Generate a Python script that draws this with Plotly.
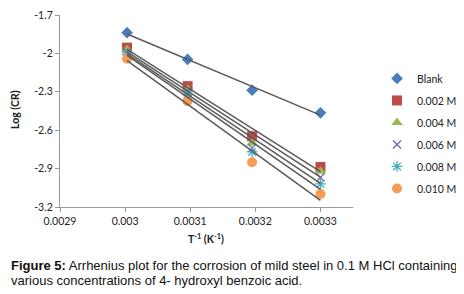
import numpy as np
import plotly.graph_objects as go

# Data
inv_T = [0.003003, 0.003096, 0.003195, 0.003300]
series_names = ["Blank", "0.002 M", "0.004 M", "0.006 M", "0.008 M", "0.010 M"]
blank = [-1.838, -2.047, -2.287, -2.464]
c002 = [-1.955, -2.256, -2.647, -2.887]
c004 = [-1.969, -2.280, -2.700, -2.920]
c006 = [-1.990, -2.300, -2.740, -2.970]
c008 = [-2.005, -2.320, -2.770, -3.020]
c010 = [-2.042, -2.373, -2.851, -3.098]

x_tickvals = [0.0029, 0.0030, 0.0031, 0.0032, 0.0033]
x_ticktext = ["0.0029", "0.003", "0.0031", "0.0032", "0.0033"]
y_tickvals = [-3.2, -2.9, -2.6, -2.3, -2.0, -1.7]
y_ticktext = ["-3.2", "-2.9", "-2.6", "-2.3", "-2", "-1.7"]

x_title = "<b>T<sup>-1</sup> (K<sup>-1</sup>)</b>"
y_title = "<b>Log (CR)</b>"
caption_line1 = "<b>Figure 5:</b> Arrhenius plot for the corrosion of mild steel in 0.1 M HCl containing"
caption_line2 = "various concentrations of 4- hydroxyl benzoic acid."

all_series = [blank, c002, c004, c006, c008, c010]
colors = ["#4A7EBB", "#BE4B48", "#98B954", "#7D60A0", "#46AAC5", "#F59D56"]
symbols = ["diamond", "square", "triangle-up", "x-thin-open", "asterisk-open", "circle"]
sizes = [9, 10, 10, 8, 9, 10]

fig = go.Figure()
for i, (name, ys) in enumerate(zip(series_names, all_series)):
    line_w = 1.3 if symbols[i] in ("x-thin-open", "asterisk-open") else 0
    fig.add_trace(go.Scatter(
        x=inv_T, y=ys, mode="markers", name=name,
        legendgroup=name,
        marker=dict(symbol=symbols[i], color=colors[i], size=sizes[i],
                    line=dict(width=line_w, color=colors[i])),
    ))

# Linear trendlines (least-squares fit of each series)
for name, ys in zip(series_names, all_series):
    m, b = np.polyfit(inv_T, ys, 1)
    xs = [inv_T[0], inv_T[-1]]
    fig.add_trace(go.Scatter(
        x=xs, y=[m * xv + b for xv in xs], mode="lines", showlegend=False,
        line=dict(color="#5A5A5A", width=1.5), hoverinfo="skip",
    ))

axis_font = dict(family="Lato, Open Sans, sans-serif", size=10.5, color="#222222")

# The page adds an 8 px offset at top and left; the figure fills the rest.
fig.update_layout(
    width=456, height=286,
    margin=dict(l=52, r=111, t=7, b=87, autoexpand=False),
    paper_bgcolor="white", plot_bgcolor="white",
    showlegend=True,
    legend=dict(
        x=1.082, y=0.745, xanchor="left", yanchor="top",
        font=dict(family="Lato, Open Sans, sans-serif", size=10.5, color="#222222"),
        tracegroupgap=3, traceorder="grouped",
        itemwidth=30, bgcolor="rgba(0,0,0,0)",
    ),
    xaxis=dict(
        range=[0.0029, 0.00335], tickvals=x_tickvals, ticktext=x_ticktext,
        showgrid=False, zeroline=False, showline=True, linecolor="#9A9A9A", linewidth=1.3,
        ticks="outside", ticklen=4, tickcolor="#9A9A9A", tickfont=axis_font,
        automargin=False,
    ),
    yaxis=dict(
        range=[-3.2, -1.7], tickvals=y_tickvals, ticktext=y_ticktext,
        showgrid=False, zeroline=False, showline=True, linecolor="#9A9A9A", linewidth=1.3,
        ticks="outside", ticklen=4, tickcolor="#9A9A9A", tickfont=axis_font,
        automargin=False,
    ),
)

# plot area (screen px): x 60..353, y 15..207
def px_x(px):
    return (px - 60) / 293


def px_y(py):
    return (207 - py) / 192


title_font = dict(family="Lato, Open Sans, sans-serif", size=10.5, color="#222222")
fig.add_annotation(xref="paper", yref="paper", x=px_x(206), y=px_y(238),
                   xanchor="center", yanchor="middle", showarrow=False,
                   text=x_title, font=title_font)
fig.add_annotation(xref="paper", yref="paper", x=px_x(15), y=px_y(110),
                   xanchor="center", yanchor="middle", showarrow=False, textangle=-90,
                   text=y_title, font=title_font)

cap_font = dict(family="Liberation Sans, Arial, sans-serif", size=13.0, color="#111111")
fig.add_annotation(
    xref="paper", yref="paper", x=px_x(9), y=px_y(265),
    xanchor="left", yanchor="middle", align="left", showarrow=False,
    text=caption_line1, font=cap_font,
)
fig.add_annotation(
    xref="paper", yref="paper", x=px_x(9), y=px_y(280),
    xanchor="left", yanchor="middle", align="left", showarrow=False,
    text=caption_line2, font=cap_font,
)

fig.write_html("out.html")
